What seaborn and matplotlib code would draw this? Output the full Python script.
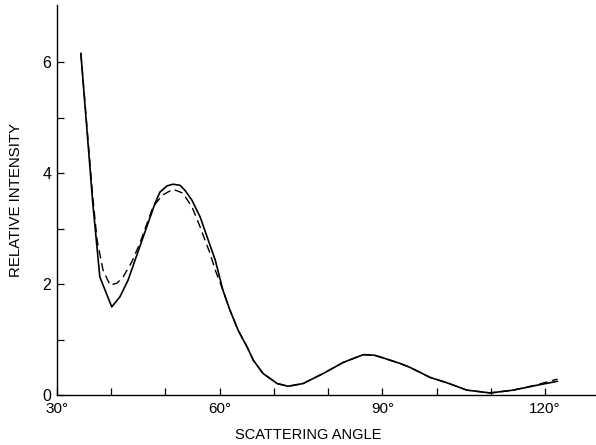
import matplotlib
matplotlib.use("Agg")
import matplotlib.pyplot as plt
from matplotlib.ticker import FixedLocator, FuncFormatter
import pandas as pd
import seaborn as sns

# ---- data ----
angle_solid = [34.4, 36.6, 37.9, 39.0, 40.1, 41.6, 43.1, 45.9, 48.1, 49.0, 50.3,
               51.4, 52.7, 53.6, 54.9, 56.4, 57.9, 59.2, 60.6, 61.9, 63.4, 65.1,
               66.2, 68.0, 70.6, 72.6, 75.4, 79.1, 82.8, 86.5, 88.5, 90.2, 93.3,
               95.1, 98.8, 102.0, 105.6, 109.9, 114.1, 118.6, 122.3]
intensity_solid = [6.16, 3.46, 2.13, 1.86, 1.59, 1.77, 2.07, 2.85, 3.46, 3.66, 3.77,
                   3.80, 3.78, 3.69, 3.51, 3.21, 2.79, 2.43, 1.89, 1.53, 1.17, 0.86,
                   0.63, 0.39, 0.21, 0.16, 0.21, 0.39, 0.59, 0.73, 0.72, 0.67, 0.57,
                   0.50, 0.32, 0.22, 0.09, 0.04, 0.09, 0.18, 0.25]

angle_dashed = [34.4, 36.6, 37.4, 38.5, 39.8, 41.1, 42.2, 43.8, 45.3, 47.7, 49.4,
                51.4, 53.2, 54.9, 56.4, 57.3, 58.2, 59.2, 60.6, 61.9, 63.4, 65.1,
                66.2, 68.0, 70.6, 72.6, 75.4, 79.1, 82.8, 86.5, 88.5, 90.2, 93.3,
                95.1, 98.8, 102.0, 105.6, 109.9, 114.1, 118.6, 122.3]
intensity_dashed = [6.16, 3.57, 2.79, 2.25, 1.98, 2.02, 2.13, 2.40, 2.74, 3.39, 3.60,
                    3.71, 3.64, 3.39, 3.03, 2.79, 2.56, 2.25, 1.89, 1.53, 1.17, 0.86,
                    0.63, 0.39, 0.21, 0.16, 0.21, 0.39, 0.59, 0.73, 0.72, 0.67, 0.57,
                    0.50, 0.32, 0.22, 0.09, 0.04, 0.09, 0.19, 0.29]

x_major = [30, 60, 90, 120]
x_minor = [40, 50, 70, 80, 100, 110]
y_major = [0, 2, 4, 6]
y_minor = [1, 3, 5]

sns.set_theme(style="ticks")
plt.rcParams["font.family"] = ["Liberation Sans", "DejaVu Sans"]
plt.rcParams["text.color"] = "black"
plt.rcParams["axes.labelcolor"] = "black"
plt.rcParams["xtick.color"] = "black"
plt.rcParams["ytick.color"] = "black"

fig = plt.figure(figsize=(5.96, 4.45), dpi=100)
ax = fig.add_axes([0.0956, 0.112, 0.9044, 0.877])

solid = pd.DataFrame({"angle": angle_solid, "intensity": intensity_solid})
dashed = pd.DataFrame({"angle": angle_dashed, "intensity": intensity_dashed})

sns.lineplot(data=solid, x="angle", y="intensity", ax=ax, color="black",
             linewidth=1.2, sort=False)
sns.lineplot(data=dashed, x="angle", y="intensity", ax=ax, color="black",
             linewidth=1.0, linestyle=(0, (6, 3.5)), sort=False)

ax.set_xlim(30, 129.4)
ax.set_ylim(0, 7.03)

ax.xaxis.set_major_locator(FixedLocator(x_major))
ax.xaxis.set_minor_locator(FixedLocator(x_minor))
ax.yaxis.set_major_locator(FixedLocator(y_major))
ax.yaxis.set_minor_locator(FixedLocator(y_minor))
ax.xaxis.set_major_formatter(FuncFormatter(lambda v, p: f"{int(v)}°"))

ax.tick_params(which="both", direction="in", length=5, width=0.9, color="black")
ax.tick_params(axis="x", which="major", labelsize=11, pad=5, labelcolor="black")
ax.tick_params(axis="y", which="major", labelsize=11.5, pad=4, labelcolor="black")

ax.set_xlabel("SCATTERING ANGLE", fontsize=10.5, labelpad=6)
ax.set_ylabel("RELATIVE INTENSITY", fontsize=10.8, labelpad=14)
ax.xaxis.set_label_coords(0.466, -0.085)

for side in ["left", "bottom"]:
    ax.spines[side].set_color("black")
    ax.spines[side].set_linewidth(1.0)
sns.despine(ax=ax)

fig.savefig("out.png", dpi=100)
